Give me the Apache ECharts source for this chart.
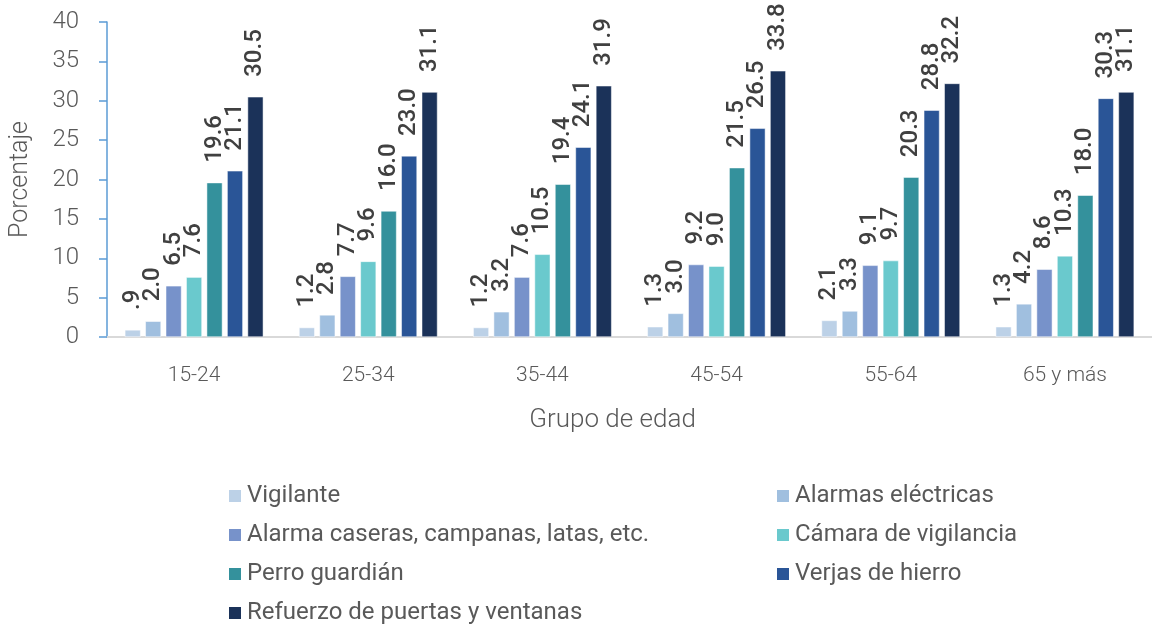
<!DOCTYPE html>
<html>
<head>
<meta charset="utf-8">
<script src="https://cdn.jsdelivr.net/npm/echarts@6/dist/echarts.min.js"></script>
<style>
  html, body { margin: 0; padding: 0; background: #fff; }
  #chart { width: 1152px; height: 624px; }
</style>
</head>
<body>
<div id="chart"></div>
<script>
const categories = ['15-24', '25-34', '35-44', '45-54', '55-64', '65 y más'];
const seriesNames = [
  'Vigilante',
  'Alarmas eléctricas',
  'Alarma caseras, campanas, latas, etc.',
  'Cámara de vigilancia',
  'Perro guardián',
  'Verjas de hierro',
  'Refuerzo de puertas y ventanas'
];
const vigilante = [0.9, 1.2, 1.2, 1.3, 2.1, 1.3];
const alarmasElectricas = [2.0, 2.8, 3.2, 3.0, 3.3, 4.2];
const alarmaCaseras = [6.5, 7.7, 7.6, 9.2, 9.1, 8.6];
const camara = [7.6, 9.6, 10.5, 9.0, 9.7, 10.3];
const perro = [19.6, 16.0, 19.4, 21.5, 20.3, 18.0];
const verjas = [21.1, 23.0, 24.1, 26.5, 28.8, 30.3];
const refuerzo = [30.5, 31.1, 31.9, 33.8, 32.2, 31.1];
const yTicks = [0, 5, 10, 15, 20, 25, 30, 35, 40];

const allData = [vigilante, alarmasElectricas, alarmaCaseras, camara, perro, verjas, refuerzo];
const colors = ['#bcd1e7', '#a0bfdf', '#7792ca', '#6ac9cd', '#34919c', '#2a5597', '#1b3259'];

const chart = echarts.init(document.getElementById('chart'));

// formato tipo Excel: 0.9 -> ".9"
const fmt = function (p) {
  let s = p.value.toFixed(1);
  if (s.indexOf('0.') === 0) s = s.slice(1);
  return s;
};

const series = seriesNames.map(function (name, i) {
  return {
    name: name,
    type: 'bar',
    data: allData[i],
    barGap: '30%',
    barCategoryGap: '20.5%',
    itemStyle: { color: colors[i], borderColor: '#ffffff', borderWidth: 0.5 },
    label: {
      show: true,
      position: 'top',
      rotate: 90,
      align: 'left',
      verticalAlign: 'middle',
      distance: 20,
      formatter: fmt,
      fontFamily: 'Roboto',
      fontSize: 24,
      fontWeight: 500,
      color: '#404040'
    }
  };
});

const legendText = { fontFamily: 'Roboto', fontSize: 24, color: '#595959' };

chart.setOption({
  animation: false,
  textStyle: { fontFamily: 'Roboto' },
  grid: { left: 104, width: 1056, top: 22, bottom: 287, containLabel: false },
  legend: [
    {
      data: [seriesNames[0], seriesNames[2], seriesNames[4], seriesNames[6]],
      orient: 'vertical',
      left: 222,
      top: 479,
      height: 200,
      itemWidth: 14,
      itemHeight: 14,
      itemGap: 15,
      icon: 'rect',
      textStyle: legendText
    },
    {
      data: [seriesNames[1], seriesNames[3], seriesNames[5]],
      orient: 'vertical',
      left: 770,
      top: 479,
      height: 200,
      itemWidth: 14,
      itemHeight: 14,
      itemGap: 15,
      icon: 'rect',
      textStyle: legendText
    }
  ],
  xAxis: {
    type: 'category',
    data: categories,
    name: 'Grupo de edad',
    nameLocation: 'middle',
    nameGap: 70,
    nameTextStyle: { fontFamily: 'Roboto', fontSize: 26, fontWeight: 300, color: '#595959', padding: [0, 34, 0, 0] },
    axisLine: { lineStyle: { color: '#d9d9d9', width: 2 } },
    axisTick: { show: false },
    axisLabel: { margin: 28, fontFamily: 'Roboto', fontSize: 21, fontWeight: 300, color: '#595959' }
  },
  yAxis: {
    type: 'value',
    min: yTicks[0],
    max: yTicks[yTicks.length - 1],
    interval: 5,
    name: 'Porcentaje',
    nameLocation: 'middle',
    nameGap: 74,
    nameTextStyle: { fontFamily: 'Roboto', fontSize: 25, fontWeight: 300, color: '#595959' },
    axisLine: { show: true, lineStyle: { color: '#5b9bd5', width: 1.5 } },
    axisTick: { show: true, length: 8, lineStyle: { color: '#5b9bd5', width: 1.5 } },
    splitLine: { show: false },
    axisLabel: { margin: 28, fontFamily: 'Roboto', fontSize: 24, fontWeight: 300, color: '#595959' }
  },
  series: series
});
</script>
</body>
</html>
